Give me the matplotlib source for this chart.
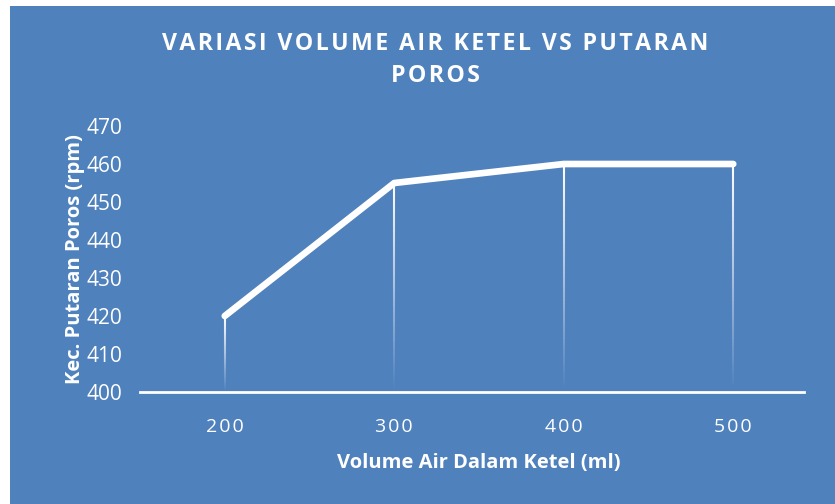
import matplotlib.pyplot as plt
import numpy as np
from matplotlib.collections import LineCollection
from matplotlib.patches import Rectangle

volume = ["200", "300", "400", "500"]
putaran = [420, 455, 460, 460]
y_ticks = [400, 410, 420, 430, 440, 450, 460, 470]

BLUE = "#4F81BD"
FONT = ["Open Sans", "DejaVu Sans"]


def spaced(s, sep="\u200a"):
    return sep.join(s)


fig = plt.figure(figsize=(8.35, 5.04), dpi=100)
fig.patch.set_facecolor("white")
# blue chart area (white margin top/left like the screenshot)
fig.patches.append(Rectangle((10 / 835, 0), 1, 1 - 6 / 504, transform=fig.transFigure,
                             facecolor=BLUE, edgecolor="none", zorder=-10))

ax = fig.add_axes([140 / 835, (504 - 392) / 504, (818 - 140) / 835, (392 - 126) / 504])
ax.set_zorder(5)
ax.set_facecolor("none")
x = np.arange(len(volume))
ax.set_xlim(-0.5, len(volume) - 0.5)
ax.set_ylim(400, 470)

# drop lines fading towards the axis
n = 60
for xi, yi in zip(x, putaran):
    ys = np.linspace(yi, 400, n + 1)
    segs = [[(xi, ys[k]), (xi, ys[k + 1])] for k in range(n)]
    alphas = np.linspace(1.0, 0.0, n)
    cols = [(1, 1, 1, a) for a in alphas]
    ax.add_collection(LineCollection(segs, colors=cols, linewidths=1.5, zorder=2))

ax.plot(x, putaran, color="white", linewidth=4.8, solid_capstyle="round",
        solid_joinstyle="round", zorder=3, clip_on=False)

for s in ["top", "right", "left"]:
    ax.spines[s].set_visible(False)
ax.spines["bottom"].set_color("white")
ax.spines["bottom"].set_linewidth(2)
ax.spines["bottom"].set_bounds(-0.5, 3.42)

ax.set_xticks(x)
ax.set_xticklabels([spaced(v) for v in volume])
ax.set_yticks(y_ticks)
ax.tick_params(axis="both", length=0, colors="white")
ax.tick_params(axis="x", pad=19, labelsize=14)
ax.tick_params(axis="y", pad=13, labelsize=15)
for lbl in ax.get_xticklabels() + ax.get_yticklabels():
    lbl.set_family(FONT)

ax.set_xlabel("Volume Air Dalam Ketel (ml)", color="white", fontsize=14.5,
              fontweight="bold", family=FONT, labelpad=12)
ax.set_ylabel("Kec. Putaran Poros (rpm)", color="white", fontsize=14.5,
              fontweight="bold", family=FONT, labelpad=1)

fig.text(0.521, 1 - 44 / 504, spaced("VARIASI VOLUME AIR KETEL VS PUTARAN"),
         color="white", fontsize=16.7, fontweight="bold", family=FONT, ha="center", va="center")
fig.text(0.521, 1 - 76 / 504, spaced("POROS"), color="white", fontsize=16.7,
         fontweight="bold", family=FONT, ha="center", va="center")

fig.savefig("out.png", dpi=100)
